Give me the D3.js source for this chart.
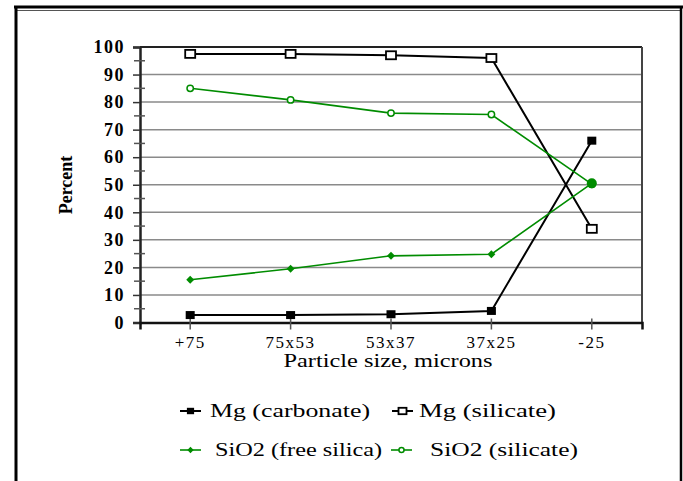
<!DOCTYPE html>
<html><head><meta charset="utf-8">
<script src="https://cdn.jsdelivr.net/npm/d3@7"></script>
<style>
body{margin:0;background:#fff;}
text{font-family:"Liberation Serif","Times New Roman",serif;fill:#000;}
</style></head>
<body><svg id="c" width="683" height="481"></svg>
<script>
const categories = ["+75","75x53","53x37","37x25","-25"];
const mgCarbonate = [2.7, 2.7, 3.0, 4.2, 66];
const mgSilicate = [97.5, 97.5, 97, 96, 34];
const sio2Free = [15.5, 19.5, 24.2, 24.8, 50.5];
const sio2Silicate = [85, 80.8, 76, 75.5, 50.2];
const yTicks = [0,10,20,30,40,50,60,70,80,90,100];
const seriesNames = ["Mg (carbonate)","Mg (silicate)","SiO2 (free silica)","SiO2 (silicate)"];

const svg = d3.select("#c");
const L=140, R=642, T=47, B=322.5;
const x = d3.scaleBand().domain(categories).range([L,R]);
const xc = c => x(c)+x.bandwidth()/2;
const y = d3.scaleLinear().domain([0,100]).range([B,T]);

// outer frame
svg.append("line").attr("x1",14).attr("x2",683).attr("y1",7).attr("y2",7).attr("stroke","#000").attr("stroke-width",3);
svg.append("line").attr("x1",17).attr("x2",681).attr("y1",10.5).attr("y2",10.5).attr("stroke","#555").attr("stroke-width",1);
svg.append("line").attr("x1",16).attr("x2",16).attr("y1",6).attr("y2",481).attr("stroke","#000").attr("stroke-width",3);
svg.append("line").attr("x1",681).attr("x2",681).attr("y1",6).attr("y2",481).attr("stroke","#000").attr("stroke-width",2.5);

// gridlines
svg.append("g").selectAll("line").data(yTicks.filter(d=>d>0&&d<100)).join("line")
  .attr("x1",L).attr("x2",R).attr("y1",d=>y(d)).attr("y2",d=>y(d))
  .attr("stroke","#8a8a8a").attr("stroke-width",1.5);

// plot border top/right
svg.append("line").attr("x1",L).attr("x2",R).attr("y1",T).attr("y2",T).attr("stroke","#222").attr("stroke-width",2);
svg.append("line").attr("x1",R).attr("x2",R).attr("y1",T).attr("y2",B).attr("stroke","#444").attr("stroke-width",2);

// y axis
const yAxis = d3.axisLeft(y).tickValues(yTicks).tickSize(7).tickPadding(8).tickFormat(d3.format("d"));
const gy = svg.append("g").attr("transform",`translate(${L},0)`).call(yAxis);
gy.select(".domain").attr("stroke","#222").attr("stroke-width",2.5);
gy.selectAll(".tick line").attr("stroke","#333").attr("stroke-width",1.5);
gy.selectAll("text").attr("font-size",18).style("letter-spacing","1.5px").attr("font-weight","bold").attr("fill","#222");
// minor ticks
svg.append("g").selectAll("line").data(yTicks.slice(0,-1).map(d=>d+5)).join("line")
  .attr("x1",L-6).attr("x2",L+5).attr("y1",d=>y(d)).attr("y2",d=>y(d))
  .attr("stroke","#555").attr("stroke-width",1.5);

// x axis
const xAxis = d3.axisBottom(x).tickSize(7).tickPadding(6);
const gx = svg.append("g").attr("transform",`translate(0,${B})`).call(xAxis);
gx.select(".domain").attr("stroke","#111").attr("stroke-width",2.5);
gx.selectAll(".tick line").attr("stroke","#555").attr("stroke-width",1.5).attr("y1",-4);
gx.selectAll("text").attr("font-size",17).style("letter-spacing","1.5px").attr("fill","#222");

// axis titles
svg.append("text").attr("x",388).attr("y",367).attr("text-anchor","middle").attr("font-size",18)
  .attr("textLength",209).attr("lengthAdjust","spacingAndGlyphs").text("Particle size, microns");
svg.append("text").attr("transform","translate(72,185) rotate(-90)").attr("text-anchor","middle")
  .attr("font-size",18).attr("font-weight","bold").text("Percent");

const series = [
  {name:seriesNames[0], vals:mgCarbonate, color:"#000", marker:"sqFill", w:2},
  {name:seriesNames[1], vals:mgSilicate, color:"#000", marker:"sqOpen", w:2},
  {name:seriesNames[2], vals:sio2Free, color:"#008c00", marker:"diamond", w:1.6},
  {name:seriesNames[3], vals:sio2Silicate, color:"#008c00", marker:"circOpen", w:1.6}
];
const line = d3.line().x((d,i)=>xc(categories[i])).y(d=>y(d));

function drawMarker(g, type, cx, cy, color, scale){
  scale = scale||1;
  if(type==="sqFill") g.append("rect").attr("x",cx-4.5*scale).attr("y",cy-4*scale).attr("width",9*scale).attr("height",8*scale).attr("fill",color);
  else if(type==="sqOpen") g.append("rect").attr("x",cx-5*scale).attr("y",cy-4*scale).attr("width",10*scale).attr("height",8*scale).attr("fill","#fff").attr("stroke",color).attr("stroke-width",1.8);
  else if(type==="diamond") g.append("path").attr("d",d3.symbol(d3.symbolDiamond2,40*scale*scale)()).attr("transform",`translate(${cx},${cy})`).attr("fill",color);
  else if(type==="circOpen") g.append("circle").attr("cx",cx).attr("cy",cy).attr("r",3.2*scale).attr("fill","#fff").attr("stroke",color).attr("stroke-width",1.5);
}

series.forEach(s=>{
  svg.append("path").datum(s.vals).attr("d",line).attr("fill","none").attr("stroke",s.color).attr("stroke-width",s.w);
});
series.forEach(s=>{
  const g = svg.append("g");
  s.vals.forEach((v,i)=>drawMarker(g,s.marker,xc(categories[i]),y(v),s.color));
});
// overlapping filled green dot at -25
svg.append("circle").attr("cx",xc(categories[4])).attr("cy",y(sio2Free[4])).attr("r",5).attr("fill","#008c00");

// legend
const legendPos = [
  {lx:180, ty:411, tx:210, tl:160},
  {lx:392, ty:411, tx:419, tl:137},
  {lx:180, ty:450, tx:215, tl:167},
  {lx:391, ty:450, tx:430, tl:148}
];
series.forEach((s,i)=>{
  const p = legendPos[i];
  const g = svg.append("g");
  g.append("line").attr("x1",p.lx).attr("x2",p.lx+21).attr("y1",p.ty).attr("y2",p.ty).attr("stroke",s.color).attr("stroke-width",s.w);
  drawMarker(g,s.marker,p.lx+10.5,p.ty,s.color,0.8);
  g.append("text").attr("x",p.tx).attr("y",p.ty+6).attr("font-size",18).attr("textLength",p.tl)
    .attr("lengthAdjust","spacingAndGlyphs").text(s.name);
});
</script></body></html>
